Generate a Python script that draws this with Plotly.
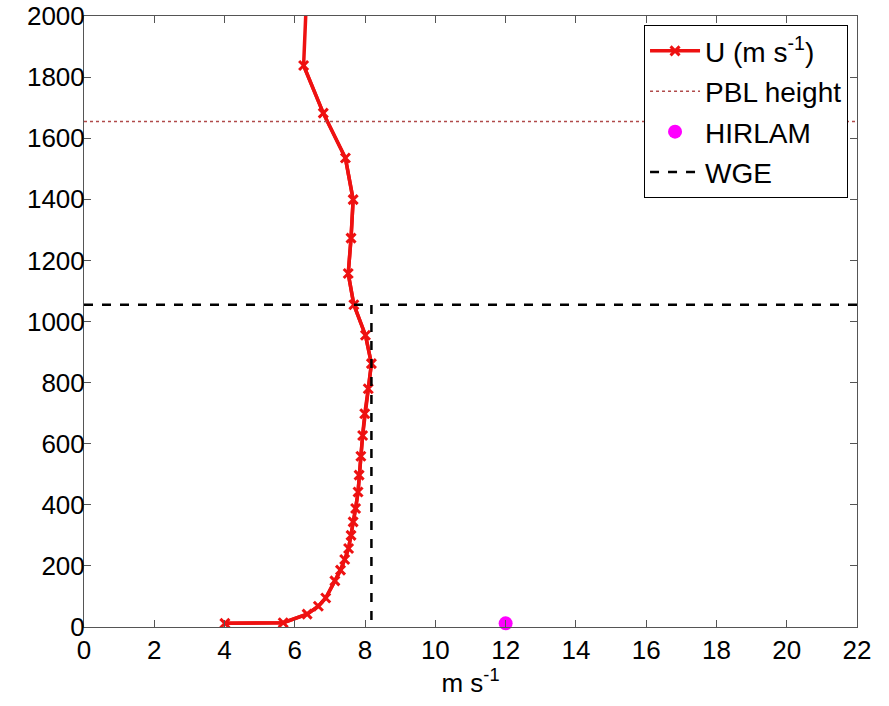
import plotly.graph_objects as go

# Wind speed profile (m/s) vs height (m)
u_speed = [6.31, 6.25, 6.81, 7.44, 7.66, 7.60, 7.52, 7.68, 8.01, 8.18, 8.09, 7.99, 7.93,
           7.88, 7.83, 7.80, 7.73, 7.66, 7.60, 7.53, 7.42, 7.30, 7.14, 6.88, 6.67, 6.35,
           5.67, 4.01]
u_height = [2000, 1838, 1682, 1535, 1399, 1273, 1157, 1055, 955, 862, 780, 698, 627,
            559, 497, 442, 388, 344, 300, 257, 221, 186, 151, 95, 68, 42, 14, 12]
marker_show = [False] + [True] * 27

pbl_height = 1655
x_range = [0, 22]
y_range = [0, 2000]

hirlam_x = [12]
hirlam_y = [12]

wge_speed = 8.18
wge_height = 1055

x_ticks = list(range(0, 23, 2))
y_ticks = list(range(0, 2001, 200))

FONT = "Liberation Sans"

fig = go.Figure()

# U profile: line + markers (top point has no marker)
fig.add_trace(go.Scatter(
    x=u_speed, y=u_height, mode="lines",
    line=dict(color="#ee1111", width=3.5),
    showlegend=False, hoverinfo="skip"))
fig.add_trace(go.Scatter(
    x=[v for v, s in zip(u_speed, marker_show) if s],
    y=[h for h, s in zip(u_height, marker_show) if s],
    mode="lines+markers", legendgroup="a",
    line=dict(color="#ee1111", width=3.5),
    marker=dict(symbol="x-thin", size=9, line=dict(color="#ee1111", width=3)),
    name="U (m s<sup>-1</sup>)"))

# PBL height
fig.add_trace(go.Scatter(
    x=x_range, y=[pbl_height, pbl_height], mode="lines", legendgroup="b",
    line=dict(color="#b04a4a", width=1.5, dash="dot"),
    name="PBL height"))

# HIRLAM
fig.add_trace(go.Scatter(
    x=hirlam_x, y=hirlam_y, mode="markers", legendgroup="c",
    marker=dict(color="#ff00ff", size=14),
    name="HIRLAM", cliponaxis=False))

# WGE (horizontal + vertical)
fig.add_trace(go.Scatter(
    x=[x_range[1], wge_speed, wge_speed, None, x_range[0], wge_speed],
    y=[wge_height, wge_height, y_range[0], None, wge_height, wge_height],
    mode="lines", legendgroup="d",
    line=dict(color="black", width=2.5, dash="dash"),
    name="WGE"))

axis_common = dict(
    showgrid=False, zeroline=False, showline=True, mirror="ticks",
    linecolor="#555555", linewidth=1, ticks="inside", ticklen=7,
    tickcolor="#555555", automargin=False,
    tickfont=dict(family=FONT, size=26, color="black"),
)

fig.update_layout(
    width=889, height=706,
    margin=dict(l=84, r=32, t=16, b=79, autoexpand=False),
    paper_bgcolor="white", plot_bgcolor="white",
    font=dict(family=FONT, size=26, color="black"),
    xaxis=dict(range=x_range, tickvals=x_ticks, **axis_common,
               title=dict(text="m s<sup>-1</sup>", standoff=5,
                          font=dict(family=FONT, size=26))),
    yaxis=dict(range=y_range, tickvals=y_ticks, ticklabelstandoff=-7, **axis_common),
    legend=dict(x=0.7245, y=0.985, xanchor="left", yanchor="top",
                bgcolor="white", bordercolor="black", borderwidth=1,
                font=dict(family=FONT, size=28),
                itemwidth=50, tracegroupgap=1),
)

fig.write_html("out.html", config={"displayModeBar": False},
               post_script="document.body.style.margin='0';")
